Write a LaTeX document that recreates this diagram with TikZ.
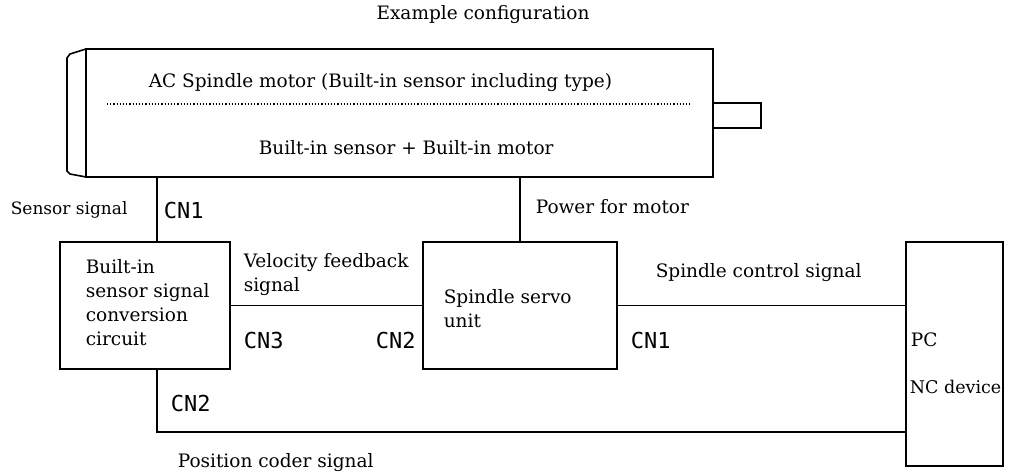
\documentclass[tikz,border=0pt]{standalone}
\usepackage{fontspec}
\setmainfont{DejaVu Serif}
\newfontfamily\cnfont{DejaVu Sans Mono}
\begin{document}
\begin{tikzpicture}[x=1pt,y=-1pt, line width=1.6pt,
  lbl/.style={anchor=west, inner sep=0pt, font=\fontsize{18.5}{24}\selectfont},
  cn/.style={anchor=west, inner sep=0pt, font=\cnfont\fontsize{22}{24}\selectfont},
  box/.style={draw, line width=1.6pt, inner sep=0pt, outer sep=0pt}]
\useasboundingbox (0,0) rectangle (1010,473);
% boxes
\node[box, minimum width=627pt, minimum height=128pt] (motor) at (399.5,113) {};
\node[box, minimum width=48pt, minimum height=25pt] (shaft) at (737,115.5) {};
\node[box, minimum width=170pt, minimum height=127pt] (conv) at (145,305.5) {};
\node[box, minimum width=194pt, minimum height=127pt] (servo) at (520,305.5) {};
\node[box, minimum width=97pt, minimum height=224pt] (nc) at (954.5,354) {};
% motor end cap
\draw (motor.north west) -- ++(-16,5) -- ++(-3,4) -- (67,171) -- (70,174) -- (motor.south west);
% dotted separator
\draw[line width=1.2pt, dash pattern=on 1.2pt off 2pt] (107,104) -- (690,104);
% connectors
\coordinate (s1) at (157,0);
\coordinate (pos) at (0,432);
\draw (motor.south -| s1) -- (conv.north -| s1);
\draw (motor.south -| servo.north) -- (servo.north);
\draw (conv.east) -- (servo.west);
\draw (servo.east) -- (nc.west |- servo.east);
\draw (conv.south -| s1) |- (nc.west |- pos);
% labels
\node[lbl, anchor=center] (title) at (483,15) {Example configuration};
\node[lbl] (mt1) at (148,83) {AC Spindle motor (Built-in sensor including type)};
\node[lbl] (mt2) at (258,148) {Built-in sensor + Built-in motor};
\node[lbl, font=\fontsize{17}{24}\selectfont] (ss) at (10,210) {Sensor signal};
\node[cn] (cn1a) at (163,210) {CN1};
\node[lbl] (pw) at (535,207) {Power for motor};
\node[lbl, align=left] (convt) at (85,303) {Built-in\\sensor signal\\conversion\\circuit};
\node[lbl, align=left] (vf) at (243,275) {Velocity feedback\\signal};
\node[cn] (cn3) at (243,340) {CN3};
\node[cn] (cn2a) at (375,340) {CN2};
\node[lbl, align=left] (servot) at (443,308.5) {Spindle servo\\unit};
\node[lbl] (sc) at (655,273) {Spindle control signal};
\node[cn] (cn1b) at (630,340) {CN1};
\node[lbl] (pc) at (910,340) {PC};
\node[lbl, font=\fontsize{17.5}{24}\selectfont] (ncd) at (909,387) {NC device};
\node[cn] (cn2b) at (170,403) {CN2};
\node[lbl] (pcs) at (177,463) {Position coder signal};
\end{tikzpicture}
\end{document}
